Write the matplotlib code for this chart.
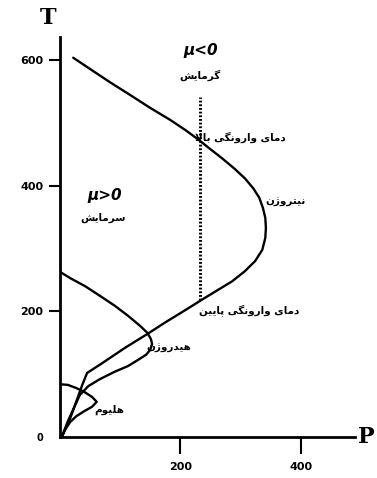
import numpy as np
import matplotlib.pyplot as plt

# inversion curves, P (x) and T (y)
nitrogen_p = [22, 50, 83, 116, 150, 183, 208, 228, 249, 269, 289, 307, 321, 331, 337, 341, 342, 341, 336, 324,
              307, 286, 262, 238, 208, 174, 145, 108, 66, 45, 37, 28, 17, 3]
nitrogen_t = [604, 586, 565, 545, 524, 505, 489, 475, 459, 444, 428, 412, 396, 381, 365, 349, 333, 317, 298, 280,
              264, 248, 234, 220, 202, 182, 164, 142, 115, 102, 83, 59, 30, 0]

hydrogen_p = [0, 17, 42, 66, 91, 113, 133, 145, 151, 153, 150, 143, 130, 113, 91, 66, 47, 33, 23, 13, 3]
hydrogen_t = [263, 253, 240, 225, 209, 193, 177, 166, 156, 148, 139, 131, 123, 113, 104, 92, 81, 67, 46, 25, 0]

helium_p = [0, 13, 27, 40, 53, 61, 53, 40, 27, 17, 8, 3]
helium_t = [84, 83, 78, 72, 64, 56, 48, 41, 33, 24, 11, 0]

dotted_p = 233
dotted_t = (218, 541)

x_ticks = [200, 400]
y_ticks = [0, 200, 400, 600]

# persian letters: isolated, final, initial, medial
FORMS = {
    'ا': ('\uFE8D', '\uFE8E', None, None),
    'ب': ('\uFE8F', '\uFE90', '\uFE91', '\uFE92'),
    'پ': ('\uFB56', '\uFB57', '\uFB58', '\uFB59'),
    'ت': ('\uFE95', '\uFE96', '\uFE97', '\uFE98'),
    'د': ('\uFEA9', '\uFEAA', None, None),
    'ر': ('\uFEAD', '\uFEAE', None, None),
    'ژ': ('\uFB8A', '\uFB8B', None, None),
    'س': ('\uFEB1', '\uFEB2', '\uFEB3', '\uFEB4'),
    'ش': ('\uFEB5', '\uFEB6', '\uFEB7', '\uFEB8'),
    'گ': ('\uFB92', '\uFB93', '\uFB94', '\uFB95'),
    'ل': ('\uFEDD', '\uFEDE', '\uFEDF', '\uFEE0'),
    'م': ('\uFEE1', '\uFEE2', '\uFEE3', '\uFEE4'),
    'ن': ('\uFEE5', '\uFEE6', '\uFEE7', '\uFEE8'),
    'و': ('\uFEED', '\uFEEE', None, None),
    'ه': ('\uFEE9', '\uFEEA', '\uFEEB', '\uFEEC'),
    'ی': ('\uFBFC', '\uFBFD', '\uFBFE', '\uFBFF'),
}


def shape(text):
    # join letters and reverse, since matplotlib draws left to right
    out = []
    chars = list(text)
    i = 0
    while i < len(chars):
        c = chars[i]
        if c not in FORMS:
            out.append(c)
            i += 1
            continue
        prev = chars[i - 1] if i > 0 else None
        joins_prev = prev in FORMS and FORMS[prev][2] is not None
        if c == 'ل' and i + 1 < len(chars) and chars[i + 1] == 'ا':
            out.append('\uFEFC' if joins_prev else '\uFEFB')
            i += 2
            continue
        nxt = chars[i + 1] if i + 1 < len(chars) else None
        joins_next = nxt in FORMS and FORMS[c][2] is not None
        iso, fin, ini, med = FORMS[c]
        if joins_prev and joins_next:
            out.append(med)
        elif joins_prev:
            out.append(fin)
        elif joins_next:
            out.append(ini)
        else:
            out.append(iso)
        i += 1
    return ''.join(reversed(out))


fig = plt.figure(figsize=(3.77, 4.78), dpi=100)
ax = fig.add_axes([60 / 377, 41 / 478, 295 / 377, 400 / 478])

line = dict(color='black', lw=1.7, solid_joinstyle='round', solid_capstyle='round')
ax.plot(nitrogen_p, nitrogen_t, **line)
ax.plot(hydrogen_p, hydrogen_t, **line)
ax.plot(helium_p, helium_t, **line)
ax.plot([dotted_p, dotted_p], dotted_t, color='black', lw=2.2, ls=(0, (0.6, 0.6)))

ax.set_xlim(0, 490)
ax.set_ylim(0, 637)
for s in ['top', 'right']:
    ax.spines[s].set_visible(False)
for s in ['left', 'bottom']:
    ax.spines[s].set_linewidth(2)

ax.set_xticks(x_ticks)
ax.set_xticklabels([str(v) for v in x_ticks], fontsize=8, fontweight='bold')
ax.tick_params(axis='x', direction='out', length=12, width=1.5, pad=6)
ax.set_yticks(y_ticks)
ax.set_yticklabels([str(v) for v in y_ticks], fontsize=8, fontweight='bold')
ax.tick_params(axis='y', direction='out', length=8, width=1.5, pad=4)
ax.yaxis.get_major_ticks()[0].tick1line.set_visible(False)
ax.yaxis.get_major_ticks()[0].label1.set_fontsize(7)

fig.text(48 / 377, 1 - 18 / 478, 'T', fontsize=16, fontweight='bold', family='DejaVu Serif', ha='center', va='center')
fig.text(366 / 377, 1 - 437 / 478, 'P', fontsize=16, fontweight='bold', family='DejaVu Serif', ha='center', va='center')

persian = dict(fontsize=7.5, fontweight='bold', family='DejaVu Sans', ha='center', va='center')
mu = dict(fontsize=11, fontweight='bold', style='italic', family='DejaVu Sans', ha='center', va='center')

ax.text(233, 615, 'μ<0', **mu)
ax.text(233, 576, shape('گرمایش'), **persian)
ax.text(74, 385, 'μ>0', **mu)
ax.text(72, 349, shape('سرمایش'), **persian)
ax.text(300, 477, shape('دمای وارونگی بالا'), **persian)
ax.text(375, 375, shape('نیتروژن'), **persian)
ax.text(315, 202, shape('دمای وارونگی پایین'), **persian)
ax.text(180, 142, shape('هیدروژن'), **persian)
ax.text(82, 43, shape('هلیوم'), **persian)

fig.savefig('out.png', dpi=100)
